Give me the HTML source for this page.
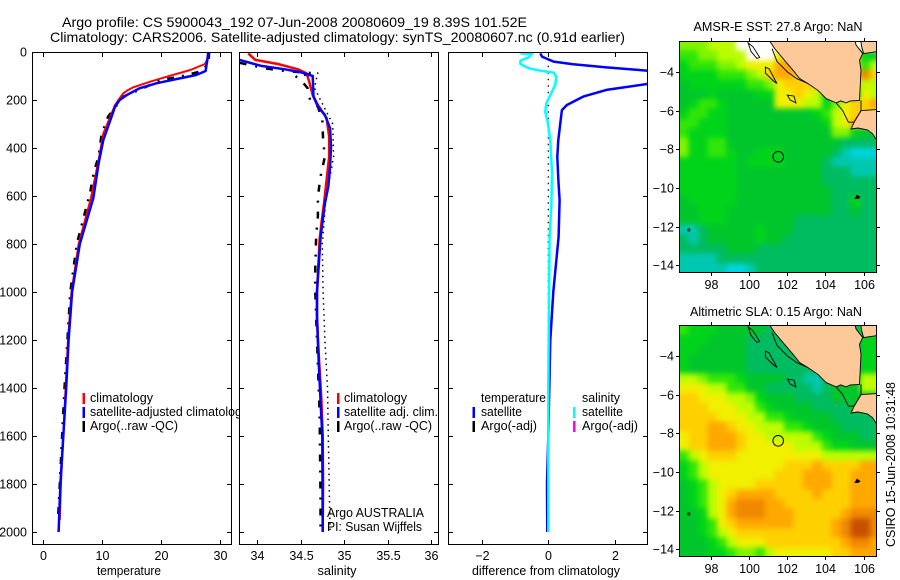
<!DOCTYPE html>
<html>
<head>
<meta charset="utf-8">
<style>
html,body{margin:0;padding:0;background:#fff;}
svg{display:block;font-family:"Liberation Sans",sans-serif;fill:#000;}
text{font-size:12.5px;}
.crisp{shape-rendering:crispEdges;}
</style>
</head>
<body>
<svg id="chart" xmlns="http://www.w3.org/2000/svg" width="900" height="580" viewBox="0 0 900 580">
<defs>
<filter id="map-smooth" filterUnits="userSpaceOnUse" x="650" y="0" width="250" height="580" color-interpolation-filters="sRGB"><feGaussianBlur stdDeviation="2.6"/></filter>
</defs>
<rect width="900" height="580" fill="#fff"/>
<text x="62" y="27" style="font-size:14px" textLength="465" lengthAdjust="spacingAndGlyphs">Argo profile: CS 5900043_192 07-Jun-2008 20080609_19 8.39S 101.52E</text>
<text x="50" y="42" style="font-size:14px" textLength="575" lengthAdjust="spacingAndGlyphs">Climatology: CARS2006. Satellite-adjusted climatology: synTS_20080607.nc (0.91d earlier)</text>
<g id="panels"></g>
<g id="maps"></g>
<g id="labels">
<text x="129" y="575" text-anchor="middle" textLength="64" lengthAdjust="spacingAndGlyphs">temperature</text>
<text x="337" y="575" text-anchor="middle" textLength="39" lengthAdjust="spacingAndGlyphs">salinity</text>
<text x="546" y="575" text-anchor="middle" textLength="148" lengthAdjust="spacingAndGlyphs">difference from climatology</text>
<text x="90" y="402" textLength="63" lengthAdjust="spacingAndGlyphs">climatology</text>
<text x="90" y="430" textLength="88" lengthAdjust="spacingAndGlyphs">Argo(..raw -QC)</text>
<text x="344" y="402" textLength="63" lengthAdjust="spacingAndGlyphs">climatology</text>
<text x="344" y="416" textLength="94" lengthAdjust="spacingAndGlyphs">satellite adj. clim.</text>
<text x="344" y="430" textLength="88" lengthAdjust="spacingAndGlyphs">Argo(..raw -QC)</text>
<text x="327" y="517" textLength="97" lengthAdjust="spacingAndGlyphs">Argo AUSTRALIA</text>
<text x="327" y="531" textLength="95" lengthAdjust="spacingAndGlyphs">PI: Susan Wijffels</text>
<text x="481" y="402" textLength="65" lengthAdjust="spacingAndGlyphs">temperature</text>
<text x="481" y="416" textLength="41" lengthAdjust="spacingAndGlyphs">satellite</text>
<text x="481" y="430" textLength="56" lengthAdjust="spacingAndGlyphs">Argo(-adj)</text>
<text x="582" y="402" textLength="38" lengthAdjust="spacingAndGlyphs">salinity</text>
<text x="582" y="416" textLength="41" lengthAdjust="spacingAndGlyphs">satellite</text>
<text x="582" y="430" textLength="56" lengthAdjust="spacingAndGlyphs">Argo(-adj)</text>
<text x="778" y="31" text-anchor="middle" textLength="169" lengthAdjust="spacingAndGlyphs">AMSR-E SST: 27.8 Argo: NaN</text>
<text x="776" y="316" text-anchor="middle" textLength="172" lengthAdjust="spacingAndGlyphs">Altimetric SLA: 0.15 Argo: NaN</text>
<text transform="translate(895,547) rotate(-90)" textLength="165" lengthAdjust="spacingAndGlyphs">CSIRO 15-Jun-2008 10:31:48</text>
</g>
</svg>
<script>
// ---- profile data ----
const depthTicks = [0,200,400,600,800,1000,1200,1400,1600,1800,2000];
const tempTicks = [0,10,20,30];
const salTicks = [34,34.5,35,35.5,36];
const diffTicks = [-2,0,2];

const tempClimDepth = [0,30,50,75,103,124,147,160,172,195,221,270,339,450,609,800,1000,1200,1400,1600,1800,1950];
const tempClimValue = [28,27.9,27.5,25,21,18.1,15.3,14.3,13.6,12.9,12.2,11.4,10.2,9.4,8.1,6,4.8,4.2,3.8,3.4,3.0,2.8];
const tempSatDepth = [0,79,96,110,130,151,179,200,228,270,367,464,609,800,1000,1200,1400,1600,1800,2000];
const tempSatValue = [28.1,27.6,26,23.2,19.3,16.4,14.2,13,12.2,11.6,10.2,9.4,8.5,6.2,4.9,4.3,3.9,3.4,2.9,2.6];
const tempArgoDepth = [0,50,82,103,117,151,186,270,345,436,499,582,800,1000,1200,1400,1600,1800,1950];
const tempArgoValue = [28.2,28.1,26.6,23.2,19.8,17,13.6,11,9.9,9.4,8.6,8,5.7,4.6,4.1,3.6,3.2,2.8,2.5];

const salClimDepth = [6,33,50,72,89,124,179,221,276,353,436,533,631,714,783,1000,1100,1200,1450,1600,1800,2000];
const salClimValue = [33.9,33.98,34.24,34.47,34.57,34.6,34.64,34.7,34.8,34.83,34.83,34.8,34.77,34.74,34.72,34.69,34.69,34.7,34.74,34.755,34.76,34.755];
const salSatDepth = [33,58,72,85,100,186,228,262,318,394,478,561,631,714,776,1000,1100,1300,1450,1600,2000];
const salSatValue = [33.8,34.05,34.32,34.51,34.64,34.65,34.7,34.78,34.84,34.85,34.84,34.82,34.78,34.75,34.73,34.69,34.69,34.71,34.73,34.75,34.755];
const salArgoDepth = [45,68,80,89,100,115,150,200,228,283,367,436,520,603,686,762,900,1000,1200,1500,1850,1980];
const salArgoValue = [33.8,34.09,34.35,34.67,34.44,34.5,34.58,34.61,34.7,34.75,34.76,34.78,34.73,34.7,34.7,34.68,34.67,34.67,34.69,34.72,34.73,34.73];
const salDotDepth = [85,150,300,436,620,800,1000,1200,1400,1600,1800,2000];
const salDotValue = [34.7,34.66,34.87,34.88,34.79,34.75,34.76,34.78,34.81,34.82,34.83,34.84];

const diffTempDepth = [6,19,40,51,64,78,100,133,158,186,221,242,297,367,436,530,617,770,1000,1200,1400,1600,1800,2000];
const diffTempValue = [-0.24,-0.19,0.16,0.75,1.75,3,4.8,3,1.75,1.05,0.56,0.41,0.36,0.3,0.27,0.3,0.34,0.31,0.15,0.06,0.03,0,-0.04,-0.03];
const diffSalDepth = [6,8,22,36,50,68,78,86,103,137,179,214,249,290,367,505,644,770,1000,1400,2000];
const diffSalValue = [-0.84,-0.49,-0.59,-0.84,-0.84,-0.59,-0.24,0.16,0.24,0.21,0.06,-0.06,-0.09,-0.02,0.06,0.11,0.09,0.04,0.02,0,0];
const diffDotDepth = [30,2000];
const diffDotValue = [0,0];

// ---- map data (0.5 degree cells, colour level per cell) ----
const lonTicks = [98,100,102,104,106];
const latTicks = [-4,-6,-8,-10,-12,-14];
const sstRows = [
"666777wwwwwwwwwwwwwww","5566777www8899999 9944","4555667888aa999999957","4444555679aa9999999b9",
"344444455689999999977","333433334488987444487","34554333338887746899a","455443333333334578999",
"5544433333333334 78a99","544443333333333366433","644553333333333332222","644554334443333321000",
"444444344443333211111","444444333333333222111","444444333333333222222","444444333333333322222",
"344444333333333322422","334443333333333322322","334443333333222222222","112333334333222222222",
"212333334332222222222","222223332222222222222","111122222222222222222","111110012222222222222"].map(r=>r.replace(/ /g,''));
const slaRows = [
"544433333222222222244","444333322222222222244","443333322222222222244","433333322222222222244",
"433333322222222222244","776555433332211233377","888775533222221233377","998887764333222233333",
"999888775433332222333","999988877554333322222","999aa98877755433322 22","899aaa988777775433322",
"899aaa988888777544333","578999888888888777777","457888888889 99a999 9aa","457888888899 9aaa99aaa",
"3457888899999aaa99aaa","345789aaaa9999a999aaa","34578abbbaa9999999aaa","33478abbbaaa99999abbb",
"334589aaaaaa9999abccb","3345789999999999abccb","333457888999999 99abba","333445665 7888888 99aaa"].map(r=>r.replace(/ /g,''));
const levelColors = {"0":"#00d4e0","1":"#00c8b0","2":"#00bc60","3":"#00c62c","4":"#00d41a","5":"#30e608","6":"#80f400","7":"#bcfc00","8":"#f0f000","9":"#ffd000","a":"#ffa800","b":"#f08800","c":"#c85000","w":"#ffffff"};
const sumatraLand = [[101.07,-2.4],[101.33,-2.79],[101.85,-3.4],[102.29,-3.91],[102.64,-4.34],[103.07,-4.6],[103.6,-4.95],[104.03,-5.38],[104.56,-5.6],[104.8,-5.5],[105.08,-5.6],[105.3,-5.5],[105.78,-5.47],[105.86,-3.91],[105.78,-3.4],[105.95,-3.05],[105.6,-2.6],[105.55,-2.4]];
const borneoLand = [[105.85,-2.4],[105.9,-2.7],[106.0,-3.05],[106.7,-2.95],[106.7,-2.4]];
const javaLand = [[105.86,-6.0],[106.7,-5.95],[106.7,-7.55],[106.47,-7.2],[106.2,-7.0],[105.7,-6.9],[105.34,-6.95],[105.5,-6.6]];
const siberutIsland = [[99.94,-2.5],[100.2,-2.7],[100.55,-3.25],[100.4,-3.3],[100.1,-2.95]];
const siporaIsland = [[100.85,-3.75],[101.05,-3.85],[101.45,-4.6],[101.25,-4.45],[100.85,-4.05]];
const engganoIsland = [[102.0,-5.2],[102.35,-5.25],[102.45,-5.6],[102.15,-5.45]];
const christmasIsland = [[105.55,-10.55],[105.65,-10.38],[105.8,-10.48],[105.7,-10.55]];
const cocosIsland = [[96.78,-12.12],[96.88,-12.12],[96.88,-12.22],[96.78,-12.22]];
const shelfLine = [[101.2,-2.8],[101.45,-3.45],[102.0,-4.0],[102.5,-4.35],[103.07,-4.6]];
const lampungCoast = [[104.56,-5.6],[104.9,-6.0],[105.2,-6.6],[105.5,-6.6],[105.86,-6.0],[105.86,-5.47]];
const floatPosition = [101.52,-8.39];

// ---- helpers ----
const NS = 'http://www.w3.org/2000/svg';
function mk(tag, attrs, parent, text){
  const e = document.createElementNS(NS, tag);
  for(const k in attrs) e.setAttribute(k, attrs[k]);
  if(text !== undefined) e.textContent = text;
  parent.appendChild(e);
  return e;
}
const yOf = d => 52 + 0.24*d;
const panelTop = 52, panelBottom = 545;
const xTemp = v => 43.3 + v*5.88;
const xSal = v => 257 + (v-34)*87;
const xDiff = v => 548.3 + v*33.2;

const panelsG = document.getElementById('panels');
function buildPanel(name, left, right, xf, ticks, showDepthLabels){
  const g = mk('g', {}, panelsG);
  
  
  const bg = mk('rect', {x:left,y:panelTop,width:right-left,height:panelBottom-panelTop,fill:'#fff'}, g);
  
  
  const clipId = 'clip-' + name;
  const cp = mk('clipPath', {id:clipId}, g);
  mk('rect', {x:left,y:panelTop,width:right-left,height:panelBottom-panelTop}, cp);
  const plot = mk('g', {'clip-path':'url(#'+clipId+')'}, g);
  
  
  const frame = mk('g', {stroke:'#000','stroke-width':1,class:'crisp'}, g);
  
  
  mk('rect', {x:left+0.5,y:panelTop+0.5,width:right-left-1,height:panelBottom-panelTop-1,fill:'none','stroke-width':1.2}, frame);
  depthTicks.forEach(d=>{
    const y = Math.round(yOf(d))+0.5;
    mk('line',{x1:left,x2:left+5,y1:y,y2:y},frame);
    mk('line',{x1:right-5,x2:right,y1:y,y2:y},frame);
    if(showDepthLabels){
      const t = mk('text',{x:left-5,y:y+4,'text-anchor':'end',stroke:'none'},g,String(d));
      
      
    }
  });
  ticks.forEach(v=>{
    const x = Math.round(xf(v))+0.5;
    mk('line',{x1:x,x2:x,y1:panelBottom,y2:panelBottom-5},frame);
    mk('line',{x1:x,x2:x,y1:panelTop,y2:panelTop+5},frame);
    const t = mk('text',{x:x,y:560,'text-anchor':'middle'},g,String(v).replace('-','\u2212'));
    
    
  });
  return plot;
}
function drawLine(parent, name, depths, values, xf, color, width, dash){
  const pts = depths.map((d,i)=>xf(values[i]).toFixed(1)+','+yOf(d).toFixed(1)).join(' ');
  const a = {points:pts,fill:'none',stroke:color,'stroke-width':width,'stroke-linejoin':'round'};
  if(dash) a['stroke-dasharray'] = dash;
  const l = mk('polyline', a, parent);
  
  
  return l;
}
function legendMark(parent, name, x, y, color){
  const r = mk('rect',{x:x-1,y:y-5,width:2.5,height:11,fill:color},parent);
  
  
}

// the long satellite legend runs under the salinity panel
const satLeg = mk('text',{x:90,y:416,textLength:158,lengthAdjust:'spacingAndGlyphs'},panelsG,'satellite-adjusted climatology');



// temperature panel
const p1 = buildPanel('temperature', 32, 232, xTemp, tempTicks, true);
panelsG.appendChild(satLeg);
drawLine(p1,'temperature-argo-line',tempArgoDepth,tempArgoValue,xTemp,'#000',2.5,'7 8 2 8');
drawLine(p1,'temperature-climatology-line',tempClimDepth,tempClimValue,xTemp,'#ff0000',2);
drawLine(p1,'temperature-satellite-line',tempSatDepth,tempSatValue,xTemp,'#0000ff',2.5);
legendMark(panelsG,'legend-temp-climatology-mark',83.5,398,'#ff0000');
legendMark(panelsG,'legend-temp-satellite-mark',83.5,412,'#0000ff');
legendMark(panelsG,'legend-temp-argo-mark',83.5,426,'#000');

// salinity panel
const p2 = buildPanel('salinity', 239, 439, xSal, salTicks, false);
drawLine(p2,'salinity-argo-line',salArgoDepth,salArgoValue,xSal,'#000',2.5,'7 9 2 9');
drawLine(p2,'salinity-argo-adjusted-dots',salDotDepth,salDotValue,xSal,'#000',1.5,'1.5 4');
drawLine(p2,'salinity-climatology-line',salClimDepth,salClimValue,xSal,'#ff0000',2.5);
drawLine(p2,'salinity-satellite-line',salSatDepth,salSatValue,xSal,'#0000ff',2.5);
legendMark(panelsG,'legend-sal-climatology-mark',338,398,'#ff0000');
legendMark(panelsG,'legend-sal-satellite-mark',338,412,'#0000ff');
legendMark(panelsG,'legend-sal-argo-mark',338,426,'#000');

// difference panel
const p3 = buildPanel('difference', 448, 648, xDiff, diffTicks, false);
drawLine(p3,'difference-argo-zero-dots',diffDotDepth,diffDotValue,xDiff,'#000',1.2,'1.5 5');
drawLine(p3,'difference-temperature-satellite-line',diffTempDepth,diffTempValue,xDiff,'#0000ff',2.5);
drawLine(p3,'difference-salinity-satellite-line',diffSalDepth,diffSalValue,xDiff,'#00ffff',2.5);
legendMark(panelsG,'legend-diff-temp-satellite-mark',473.5,412,'#0000ff');
legendMark(panelsG,'legend-diff-temp-argo-mark',473.5,426,'#000');
legendMark(panelsG,'legend-diff-sal-satellite-mark',574,412,'#00ffff');
legendMark(panelsG,'legend-diff-sal-argo-mark',574,426,'#ff00ff');

// maps
const mapsG = document.getElementById('maps');
const lonMin = 96.32, lonMax = 106.7, latMax = -2.4, latMin = -14.4;
const mapLeft = 679, mapRight = 877;
function buildMap(name, top, rows){
  const bottom = top + 232;
  const xm = lon => mapLeft + (lon-lonMin)/(lonMax-lonMin)*(mapRight-mapLeft);
  const ym = lat => top + (latMax-lat)/(latMax-latMin)*232;
  const g = mk('g',{},mapsG);
  
  
  const cid = 'clip-' + name;
  const cp = mk('clipPath',{id:cid},g);
  mk('rect',{x:mapLeft,y:top,width:mapRight-mapLeft,height:232},cp);
  const plot = mk('g',{'clip-path':'url(#'+cid+')'},g);
  const cells = mk('g',{class:'crisp',filter:'url(#map-smooth)'},plot);
  
  
  const pad = 10;
  rows.forEach((row,j)=>{
    [...row].forEach((c,i)=>{
      const lon = lonMin + i*0.5, lat = latMax - j*0.5;
      let x = xm(lon), y = ym(lat);
      let w = xm(lon+0.5)-x+0.5, h = ym(lat-0.5)-y+0.5;
      // edge cells run past the clip so smoothing does not fade at the frame
      if(i===0){ x -= pad; w += pad; }
      if(i===row.length-1){ w += pad; }
      if(j===0){ y -= pad; h += pad; }
      if(j===rows.length-1){ h += pad; }
      const cell = mk('rect',{x:x.toFixed(2),y:y.toFixed(2),width:w.toFixed(2),height:h.toFixed(2),fill:levelColors[c]||'#00c62c'},cells);
      
      
    });
  });
  const toPts = a => a.map(p=>xm(p[0]).toFixed(1)+','+ym(p[1]).toFixed(1)).join(' ');
  [[sumatraLand,'sumatra-land'],[borneoLand,'northeast-land'],[javaLand,'java-land']].forEach(o=>{
    const poly = mk('polygon',{points:toPts(o[0]),fill:'#fdc999',stroke:'#000','stroke-width':0.9},plot);
    
    
  });
  [[siberutIsland,'siberut-island','none'],[siporaIsland,'sipora-island','none'],[engganoIsland,'enggano-island','none'],[christmasIsland,'christmas-island','#000'],[cocosIsland,'cocos-island','none']].forEach(o=>{
    const poly = mk('polygon',{points:toPts(o[0]),fill:o[2],stroke:'#000','stroke-width':0.9},plot);
    
    
  });
  [[shelfLine,'coast-inner-line'],[lampungCoast,'lampung-coast-line']].forEach(o=>{
    const l = mk('polyline',{points:toPts(o[0]),fill:'none',stroke:'#000','stroke-width':0.9},plot);
    
    
  });
  const circle = mk('circle',{cx:xm(floatPosition[0]),cy:ym(floatPosition[1]),r:5.3,fill:'none',stroke:'#000','stroke-width':1},plot);
  
  
  const frame = mk('g',{stroke:'#000','stroke-width':1,class:'crisp'},g);
  
  
  mk('rect',{x:mapLeft+0.5,y:top+0.5,width:mapRight-mapLeft-1,height:231,fill:'none'},frame);
  lonTicks.forEach(v=>{
    const x = Math.round(xm(v))+0.5;
    mk('line',{x1:x,x2:x,y1:top,y2:top-3},frame);
    mk('line',{x1:x,x2:x,y1:bottom,y2:bottom+3},frame);
    const t = mk('text',{x:x,y:bottom+16,'text-anchor':'middle'},g,String(v));
    
    
  });
  latTicks.forEach(v=>{
    const y = Math.round(ym(v))+0.5;
    mk('line',{x1:mapLeft,x2:mapLeft-3,y1:y,y2:y},frame);
    mk('line',{x1:mapRight,x2:mapRight+3,y1:y,y2:y},frame);
    const t = mk('text',{x:mapLeft-5,y:y+4,'text-anchor':'end'},g,String(v).replace('-','\u2212'));
    
    
  });
}
buildMap('sst', 41, sstRows);
buildMap('sla', 325, slaRows);
</script>
</body>
</html>
